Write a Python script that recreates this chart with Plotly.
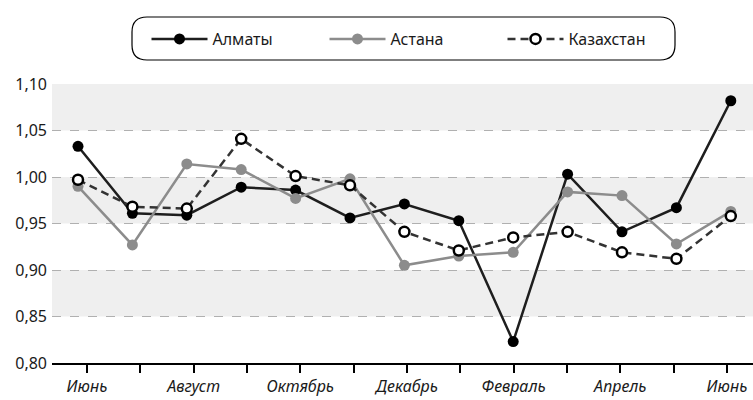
import plotly.graph_objects as go

# Monthly index values, June 2023 – June 2024
months = ["Июнь<br>2023", "Июль<br>2023", "Август<br>2023", "Сентябрь<br>2023",
          "Октябрь<br>2023", "Ноябрь<br>2023", "Декабрь<br>2023", "Январь<br>2024",
          "Февраль<br>2024", "Март<br>2024", "Апрель<br>2024", "Май<br>2024",
          "Июнь<br>2024"]
almaty = [1.033, 0.961, 0.959, 0.989, 0.986, 0.956, 0.971, 0.953,
          0.823, 1.003, 0.941, 0.967, 1.082]
astana = [0.990, 0.927, 1.014, 1.008, 0.977, 0.998, 0.905, 0.915,
          0.919, 0.984, 0.980, 0.928, 0.963]
kazakhstan = [0.997, 0.968, 0.966, 1.041, 1.001, 0.991, 0.941, 0.921,
              0.935, 0.941, 0.919, 0.912, 0.958]
y_ticks = [0.80, 0.85, 0.90, 0.95, 1.00, 1.05, 1.10]

FONT = "Noto Sans"
W, H = 753, 400
ML, MR, MT, MB = 52, 0, 84, 37
PW, PH = W - ML - MR, H - MT - MB

idx = list(range(len(months)))

fig = go.Figure()
fig.add_trace(go.Scatter(
    x=idx, y=almaty, name="Алматы", mode="lines+markers",
    line=dict(color="#1e1e1e", width=2.5),
    marker=dict(color="#000000", size=11),
))
fig.add_trace(go.Scatter(
    x=idx, y=astana, name="Астана", mode="lines+markers",
    line=dict(color="#8c8c8c", width=2.5),
    marker=dict(color="#8c8c8c", size=11),
))
fig.add_trace(go.Scatter(
    x=idx, y=kazakhstan, name="Казахстан", mode="lines+markers",
    line=dict(color="#333333", width=2.5, dash="8px,5px"),
    marker=dict(color="#ffffff", size=10, line=dict(color="#000000", width=2.5)),
))
# carrier trace for the labelled month axis
fig.add_trace(go.Scatter(x=[], y=[], xaxis="x2", showlegend=False, hoverinfo="skip"))

# alternating light bands between gridlines
shapes = []
for lo, hi in zip(y_ticks[1::2], y_ticks[2::2]):
    shapes.append(dict(type="rect", xref="paper", yref="y", x0=0, x1=1, y0=lo, y1=hi,
                       fillcolor="#efefef", line=dict(width=0), layer="below"))


def px_x(p):
    return (p - ML) / PW


def px_y(p):
    return (H - MB - p) / PH


# rounded frame around the legend
bx0, bx1, by0, by1, r = 132, 675, 17, 60, 15
path = (f"M {px_x(bx0 + r)},{px_y(by0)} L {px_x(bx1 - r)},{px_y(by0)} "
        f"Q {px_x(bx1)},{px_y(by0)} {px_x(bx1)},{px_y(by0 + r)} "
        f"L {px_x(bx1)},{px_y(by1 - r)} "
        f"Q {px_x(bx1)},{px_y(by1)} {px_x(bx1 - r)},{px_y(by1)} "
        f"L {px_x(bx0 + r)},{px_y(by1)} "
        f"Q {px_x(bx0)},{px_y(by1)} {px_x(bx0)},{px_y(by1 - r)} "
        f"L {px_x(bx0)},{px_y(by0 + r)} "
        f"Q {px_x(bx0)},{px_y(by0)} {px_x(bx0 + r)},{px_y(by0)} Z")
shapes.append(dict(type="path", xref="paper", yref="paper", path=path,
                   line=dict(color="#000000", width=1.2), fillcolor="rgba(0,0,0,0)"))

# data axis: first point at 78px, step ~54.4px
step_d, first_d = 54.4, 78
# label axis: first tick at 87px, step ~53.3px
step_t, first_t = 53.33, 87

fig.update_layout(
    width=W, height=H,
    margin=dict(l=ML, r=MR, t=MT, b=MB),
    paper_bgcolor="white", plot_bgcolor="white",
    separators=", ",
    font=dict(family=FONT, size=16, color="#1a1a1a"),
    shapes=shapes,
    showlegend=True,
    legend=dict(orientation="h", x=px_x(146.5), xanchor="left", y=px_y(39), yanchor="middle",
                bgcolor="rgba(0,0,0,0)", entrywidth=107, entrywidthmode="pixels",
                font=dict(family=FONT, size=16, color="#1a1a1a"), itemwidth=56),
    xaxis=dict(
        range=[(ML - first_d) / step_d, (W - MR - first_d) / step_d],
        visible=False, showgrid=False, zeroline=False, automargin=False,
    ),
    xaxis2=dict(
        overlaying="x", side="bottom", anchor="y", automargin=False,
        range=[(ML - first_t) / step_t, (W - MR - first_t) / step_t],
        tickmode="array", tickvals=idx,
        ticktext=[m if i % 2 == 0 else "" for i, m in enumerate(months)],
        ticks="outside", ticklen=8, tickwidth=1.5, tickcolor="#000000",
        showline=True, linecolor="#000000", linewidth=1.5,
        showgrid=False, zeroline=False,
        tickfont=dict(family=FONT, size=16, style="italic", color="#1a1a1a"),
    ),
    yaxis=dict(
        range=[0.80, 1.10], tickmode="array", tickvals=y_ticks, tickformat=".2f",
        showgrid=True, gridcolor="#b0b0b0", griddash="dash", gridwidth=1,
        zeroline=False, showline=False, ticks="", ticklabelstandoff=4,
        automargin=False,
        tickfont=dict(family=FONT, size=16, color="#1a1a1a"),
    ),
)

fig.write_html("out.html")
